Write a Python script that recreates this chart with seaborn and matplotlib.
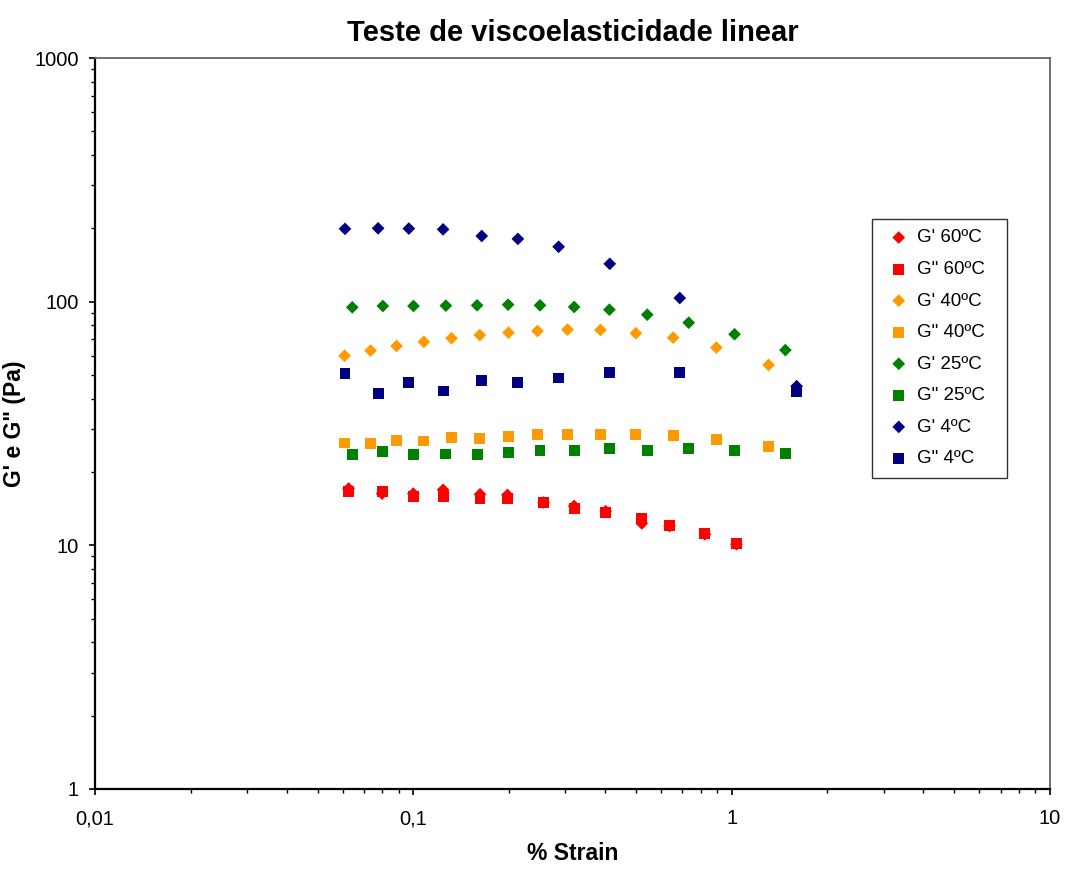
import matplotlib
matplotlib.use("Agg")
import matplotlib.pyplot as plt
import numpy as np
import pandas as pd
import seaborn as sns
from matplotlib.ticker import LogLocator, FixedLocator, FixedFormatter, NullFormatter

# ---- data ----
strain_60 = [0.0626, 0.0798, 0.100, 0.124, 0.162, 0.1975, 0.2565, 0.320, 0.402, 0.522, 0.638, 0.824, 1.035]
g1_60 = [17.1, 16.3, 16.3, 16.9, 16.2, 16.1, 15.0, 14.5, 13.8, 12.3, 12.0, 11.1, 10.1]
g2_60 = [16.6, 16.7, 15.9, 15.9, 15.5, 15.6, 15.0, 14.2, 13.6, 12.9, 12.1, 11.2, 10.2]

strain_40 = [0.0608, 0.0734, 0.0886, 0.1079, 0.1318, 0.1617, 0.199, 0.2455, 0.305, 0.387, 0.500, 0.655, 0.895, 1.306]
g1_40 = [60.0, 63.0, 65.8, 68.4, 70.8, 72.9, 74.6, 75.8, 76.8, 76.5, 74.2, 71.2, 64.8, 55.0]
g2_40 = [26.3, 26.1, 26.9, 26.8, 27.6, 27.5, 28.0, 28.4, 28.6, 28.4, 28.6, 28.2, 27.2, 25.5]

strain_25 = [0.0643, 0.0802, 0.1001, 0.1265, 0.1586, 0.1985, 0.250, 0.320, 0.413, 0.543, 0.733, 1.021, 1.475]
g1_25 = [94.8, 96.0, 96.0, 96.3, 96.6, 97.2, 96.6, 95.1, 92.7, 88.4, 82.0, 73.5, 63.3]
g2_25 = [23.6, 24.2, 23.6, 23.7, 23.6, 24.1, 24.5, 24.4, 25.0, 24.5, 24.9, 24.4, 23.9]

strain_4 = [0.061, 0.0775, 0.0968, 0.124, 0.164, 0.213, 0.286, 0.414, 0.687, 1.60]
g1_4 = [199, 200, 199.5, 198, 186, 181, 168, 143, 103.5, 45]
g2_4 = [50.8, 42.1, 46.5, 43.0, 47.3, 46.5, 48.6, 51.3, 51.2, 42.6]

labels = ["G' 60ºC", "G\" 60ºC", "G' 40ºC", "G\" 40ºC",
          "G' 25ºC", "G\" 25ºC", "G' 4ºC", "G\" 4ºC"]
colors = ["#FF0000", "#FF0000", "#FF9900", "#FF9900",
          "#008000", "#008000", "#000080", "#000080"]
x_ticks = [0.01, 0.1, 1, 10]
x_ticklabels = ["0,01", "0,1", "1", "10"]
y_ticks = [1, 10, 100, 1000]
y_ticklabels = ["1", "10", "100", "1000"]

series = [
    (strain_60, g1_60), (strain_60, g2_60),
    (strain_40, g1_40), (strain_40, g2_40),
    (strain_25, g1_25), (strain_25, g2_25),
    (strain_4, g1_4), (strain_4, g2_4),
]

sns.set_theme(style="white")
plt.rcParams['font.family'] = ['Liberation Sans', 'DejaVu Sans']
plt.rcParams.update({"text.color": "black", "axes.labelcolor": "black",
                     "xtick.color": "black", "ytick.color": "black"})

fig = plt.figure(figsize=(10.65, 8.69), dpi=100)
ax = fig.add_axes([95/1065, 1-789/869, (1050-95)/1065, (789-58)/869])

for i, ((xs, ys), lab, col) in enumerate(zip(series, labels, colors)):
    is_gprime = (i % 2 == 0)
    df = pd.DataFrame({"strain": xs, "G": ys})
    sns.scatterplot(data=df, x="strain", y="G", ax=ax, color=col,
                    marker="D" if is_gprime else "s",
                    s=42 if is_gprime else 62,
                    edgecolor="none", linewidth=0, label=lab, zorder=3)

ax.set_xscale("log")
ax.set_yscale("log")
ax.set_xlim(0.01, 10)
ax.set_ylim(1, 1000)

ax.xaxis.set_major_locator(FixedLocator(x_ticks))
ax.xaxis.set_major_formatter(FixedFormatter(x_ticklabels))
ax.yaxis.set_major_locator(FixedLocator(y_ticks))
ax.yaxis.set_major_formatter(FixedFormatter(y_ticklabels))
ax.xaxis.set_minor_locator(LogLocator(base=10, subs=np.arange(2, 10)))
ax.yaxis.set_minor_locator(LogLocator(base=10, subs=np.arange(2, 10)))
ax.xaxis.set_minor_formatter(NullFormatter())
ax.yaxis.set_minor_formatter(NullFormatter())

ax.tick_params(axis="both", which="major", direction="out", length=4.5, width=1.2,
               color="black", labelsize=14.5, labelcolor="black", bottom=True, left=True)
ax.tick_params(axis="x", which="major", pad=10)
ax.tick_params(axis="y", which="major", pad=7)
ax.tick_params(axis="both", which="minor", direction="out", length=3, width=1.0,
               color="black", bottom=True, left=True)

for side in ["left", "bottom"]:
    ax.spines[side].set_color("black")
    ax.spines[side].set_linewidth(1.6)
for side in ["top", "right"]:
    ax.spines[side].set_color("#666666")
    ax.spines[side].set_linewidth(1.3)
ax.grid(False)

ax.set_title("Teste de viscoelasticidade linear", fontsize=21, fontweight="bold",
             pad=12, color="black")
ax.set_xlabel("% Strain", fontsize=16.5, fontweight="bold", labelpad=10, color="black")
ax.set_ylabel("G' e G\" (Pa)", fontsize=16.5, fontweight="bold", labelpad=6, color="black")

leg = ax.legend(loc="upper left",
                bbox_to_anchor=(872/1065, 1-475.7/869, 135/1065, 256.7/869),
                bbox_transform=fig.transFigure, mode="expand", frameon=True,
                fancybox=False, edgecolor="black", fontsize=13.5, borderpad=0.55,
                labelspacing=0.77, handlelength=1.75, handletextpad=0.1,
                borderaxespad=0.0)
leg.get_frame().set_linewidth(1.0)

fig.savefig("out.png", dpi=100)
